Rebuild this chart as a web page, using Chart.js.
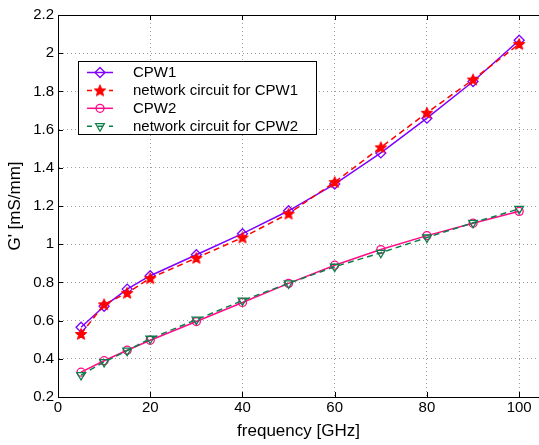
<!DOCTYPE html>
<html><head><meta charset="utf-8">
<script src="https://cdn.jsdelivr.net/npm/chart.js@4/dist/chart.umd.min.js"></script>
<style>html,body{margin:0;padding:0;background:#fff;}canvas{display:block;}</style>
</head><body>
<canvas id="c" width="539" height="445"></canvas>
<script>
const freq = [5,10,15,20,30,40,50,60,70,80,90,100];
const cpw1 = [0.565,0.675,0.765,0.835,0.945,1.055,1.175,1.315,1.478,1.660,1.852,2.068];
const net1 = [0.530,0.685,0.745,0.822,0.928,1.035,1.160,1.325,1.507,1.688,1.862,2.048];
const cpw2 = [0.330,0.390,0.445,0.497,0.595,0.695,0.795,0.890,0.972,1.045,1.110,1.172];
const net2 = [0.315,0.383,0.443,0.505,0.605,0.705,0.795,0.882,0.955,1.035,1.112,1.185];
const xTicks = [0,20,40,60,80,100];
const yTicks = [0.2,0.4,0.6,0.8,1,1.2,1.4,1.6,1.8,2,2.2];
const names = ['CPW1','network circuit for CPW1','CPW2','network circuit for CPW2'];
const colors = ['#7f00ff','#ff0000','#ff0a8a','#0b7f47'];
const xLabel = 'frequency [GHz]';
const yLabel = "G' [mS/mm]";

function makeStar(color, r){
  const s = Math.ceil(r*2+2);
  const c = document.createElement('canvas'); c.width = s; c.height = s;
  const g = c.getContext('2d'); const cx = s/2, cy = s/2 + 0.5, ri = r*0.45;
  g.beginPath();
  for (let i=0;i<10;i++){ const a = -Math.PI/2 + i*Math.PI/5; const rr = i%2 ? ri : r; g.lineTo(cx+rr*Math.cos(a), cy+rr*Math.sin(a)); }
  g.closePath(); g.fillStyle = color; g.fill(); g.strokeStyle = color; g.lineWidth = 1; g.stroke();
  return c;
}
const star = makeStar(colors[1], 6);

const FONT = "'Liberation Sans', Arial, Helvetica, sans-serif";
const pts = (ys) => freq.map((x,i)=>({x:x, y:ys[i]}));

const styles = [
  {pointStyle:'rectRot', pointRadius:5, dash:[], rot:0},
  {pointStyle:star, pointRadius:6, dash:[6,4], rot:0},
  {pointStyle:'circle', pointRadius:4, dash:[], rot:0},
  {pointStyle:'triangle', pointRadius:5, dash:[6,4], rot:180}
];
const seriesData = [cpw1, net1, cpw2, net2];

const datasets = seriesData.map((ys,i)=>({
  label: names[i],
  data: pts(ys),
  borderColor: colors[i],
  backgroundColor: i===1 ? colors[1] : 'rgba(0,0,0,0)',
  borderWidth: 1.5,
  borderDash: styles[i].dash,
  pointStyle: styles[i].pointStyle,
  pointRadius: styles[i].pointRadius,
  pointRotation: styles[i].rot,
  pointBorderWidth: 1.3,
  pointBorderColor: colors[i],
  pointBackgroundColor: i===1 ? colors[1] : 'rgba(0,0,0,0)',
  tension: 0,
  fill: false,
  clip: 8,
  order: 4 - i
}));

function drawMarker(ctx, i, x, y){
  const c = colors[i];
  ctx.save();
  ctx.strokeStyle = c; ctx.fillStyle = c; ctx.lineWidth = 1.3; ctx.setLineDash([]);
  ctx.beginPath();
  if (i===0){ const r=5; ctx.moveTo(x,y-r); ctx.lineTo(x+r,y); ctx.lineTo(x,y+r); ctx.lineTo(x-r,y); ctx.closePath(); ctx.stroke(); }
  else if (i===1){ ctx.drawImage(star, x-star.width/2, y-star.height/2); }
  else if (i===2){ ctx.arc(x,y,4,0,Math.PI*2); ctx.stroke(); }
  else { const r=5; ctx.moveTo(x, y+r); ctx.lineTo(x+r*0.866, y-r*0.5); ctx.lineTo(x-r*0.866, y-r*0.5); ctx.closePath(); ctx.stroke(); }
  ctx.restore();
}

const framePlugin = {
  id:'frame',
  beforeDatasetsDraw(chart){
    const {ctx, chartArea:a, scales} = chart;
    ctx.save();
    ctx.strokeStyle = '#000'; ctx.lineWidth = 1; ctx.setLineDash([]);
    ctx.beginPath();
    ctx.moveTo(a.left, Math.round(a.top)+0.5); ctx.lineTo(a.right, Math.round(a.top)+0.5);
    xTicks.forEach(v=>{ const px = Math.round(scales.x.getPixelForValue(v))+0.5;
      ctx.moveTo(px, a.bottom); ctx.lineTo(px, a.bottom-5);
      ctx.moveTo(px, a.top); ctx.lineTo(px, a.top+5); });
    yTicks.forEach(v=>{ const py = Math.round(scales.y.getPixelForValue(v))+0.5;
      ctx.moveTo(a.left, py); ctx.lineTo(a.left+5, py); });
    ctx.stroke();
    ctx.restore();
  },
  afterDraw(chart){
    const ctx = chart.ctx;
    const L=78.5, T=61.5, R=316.5, B=134.5;
    ctx.save();
    ctx.fillStyle = '#fff'; ctx.fillRect(L,T,R-L,B-T);
    ctx.strokeStyle = '#000'; ctx.lineWidth = 1; ctx.setLineDash([]);
    ctx.strokeRect(L,T,R-L,B-T);
    ctx.font = "15px " + FONT; ctx.textBaseline = 'middle'; ctx.textAlign = 'left';
    names.forEach((n,i)=>{
      const y = 72.5 + i*17.9;
      ctx.save();
      ctx.strokeStyle = colors[i]; ctx.lineWidth = 1.5;
      ctx.setLineDash(styles[i].dash.length ? [5,6] : []);
      ctx.beginPath(); ctx.moveTo(87, y); ctx.lineTo(113, y); ctx.stroke();
      ctx.restore();
      drawMarker(ctx, i, 100, y);
      ctx.fillStyle = '#000';
      ctx.fillText(n, 133, y+0.5);
    });
    ctx.restore();
  }
};

new Chart(document.getElementById('c'), {
  type:'line',
  data:{datasets},
  plugins:[framePlugin],
  options:{
    responsive:false, animation:false, devicePixelRatio:1,
    layout:{autoPadding:false, padding:{top:15,right:0,left:0,bottom:0}},
    plugins:{legend:{display:false}, tooltip:{enabled:false}},
    scales:{
      x:{
        type:'linear', min:0, max:104.3,
        afterBuildTicks(s){ s.ticks = xTicks.map(v=>({value:v})); },
        afterFit(s){ s.height = 48; s.paddingRight = 0; s.paddingLeft = 0; },
        ticks:{color:'#000', font:{family:FONT, size:15}, padding:2, maxRotation:0, callback:(v)=>String(v)},
        grid:{color:'#9c9c9c', lineWidth:1, drawTicks:false},
        border:{display:true, color:'#000', width:1, dash:[1,3]},
        title:{display:true, text:xLabel, color:'#000', font:{family:FONT, size:17}, padding:{top:0,bottom:3}}
      },
      y:{
        type:'linear', min:0.2, max:2.2,
        afterBuildTicks(s){ s.ticks = yTicks.map(v=>({value:v})); },
        afterFit(s){ s.width = 58; s.paddingTop = 0; s.paddingBottom = 0; },
        ticks:{color:'#000', font:{family:FONT, size:15}, padding:4, callback:(v)=>String(Math.round(v*10)/10)},
        grid:{color:'#9c9c9c', lineWidth:1, drawTicks:false},
        border:{display:true, color:'#000', width:1, dash:[1,3]},
        title:{display:true, text:yLabel, color:'#000', font:{family:FONT, size:17}, padding:{top:5,bottom:0}}
      }
    }
  }
});
</script>
</body></html>
